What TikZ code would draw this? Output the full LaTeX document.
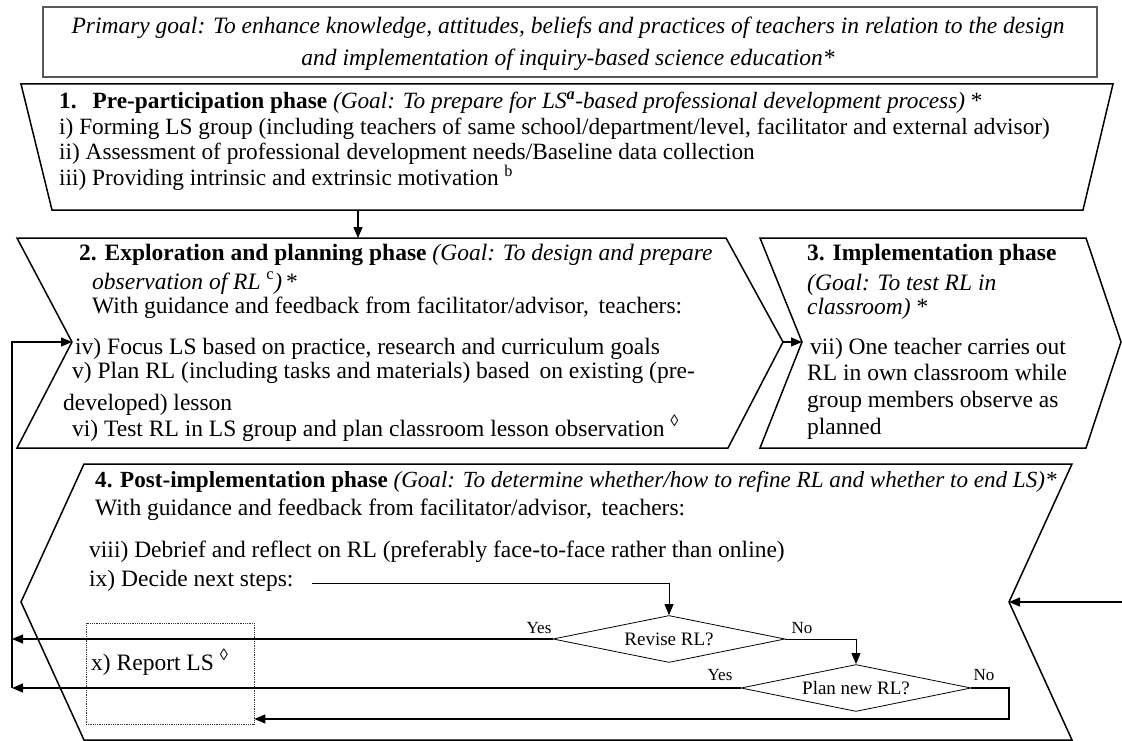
\documentclass[tikz,border=0pt]{standalone}
\usepackage{fontspec}
\setmainfont{Liberation Serif}
\usetikzlibrary{arrows.meta,shapes.geometric}

\begin{document}
\begin{tikzpicture}[x=1pt,y=-1pt,
  phase/.style={draw=black,line width=1.5pt,line join=miter},
  ln/.style={anchor=base west,inner sep=0pt,font=\fontsize{23.5}{24}\selectfont},
  flow/.style={-{Triangle[length=11pt,width=9pt]},line width=1.3pt},
  thin flow/.style={-{Triangle[length=11pt,width=9pt]},line width=0.8pt},
  decision/.style={diamond,draw,line width=0.8pt,inner sep=0pt,shape aspect=4.9,
    font=\fontsize{19}{22}\selectfont},
  answer/.style={inner sep=0pt,font=\fontsize{17}{20}\selectfont}]
\useasboundingbox (0,0) rectangle (1122,741);

% primary goal
\node[draw=black!65,line width=1.2pt,minimum width=1054pt,minimum height=70pt,
  inner sep=0pt] (goal) at (570,42) {};
\node[anchor=base,inner sep=0pt,font=\fontsize{23.5}{24}\selectfont\itshape] (goal1) at (568,34)
  {Primary goal: To enhance knowledge, attitudes, beliefs and practices of teachers in relation to the design};
\node[anchor=base,inner sep=0pt,font=\fontsize{23.5}{24}\selectfont\itshape] (goal2) at (568,66)
  {and implementation of inquiry-based science education*};

% phase outlines
\coordinate (p1out) at (358,210);
\draw[phase] (21,84) -- (1113,84) -- (1083,210) -- (52,210) -- cycle;

\coordinate (p2in) at (358,238);
\coordinate (p2notch) at (72,342);
\coordinate (p2tip) at (783,342);
\draw[phase] (17,238) -- (726,238) -- (p2tip) -- (728,448) -- (17,448) -- (p2notch) -- cycle;

\coordinate (p3notch) at (802,342);
\draw[phase] (760,238) -- (1086,238) -- (1121,342) -- (1086,448) -- (760,448) -- (p3notch) -- cycle;

\coordinate (p4notchL) at (21,602);
\coordinate (p4notchR) at (1009,602);
\draw[phase] (84,464) -- (1072,464) -- (p4notchR) -- (1072,740) -- (84,740) -- (p4notchL) -- cycle;

% phase 1 text, one block with fixed line pitch
\node[anchor=base west,inner sep=0pt] (p1) at (59,109) {\parbox[t]{1040pt}{\fontsize{23.3}{25.4}\selectfont
  \lineskiplimit=-100pt\lineskip=0pt
  \textbf{1.}\hspace{16pt}\textbf{Pre-participation phase} \textit{(Goal: To prepare for LS\textsuperscript{\bfseries a}-based professional development process)} *\\
  i) Forming LS group (including teachers of same school/department/level, facilitator and external advisor)\\
  ii) Assessment of professional development needs/Baseline data collection\\
  iii) Providing intrinsic and extrinsic motivation \textsuperscript{b}}};

% phase 2 text
\node[ln] (p2t) at (79,260) {\textbf{2. Exploration and planning phase} \textit{(Goal: To design and prepare}};
\node[ln] (p2u) at (92,289) {\textit{observation of RL} \textsuperscript{c}\textit{)}\,*};
\node[ln] (p2g) at (92,313) {With guidance and feedback from facilitator/advisor,\, teachers:};
\node[ln] (p2a) at (75,354) {iv) Focus LS based on practice, research and curriculum goals};
\node[ln] (p2b) at (72,378) {v) Plan RL (including tasks and materials) based\, on existing (pre-};
\node[ln] (p2c) at (63,410) {developed) lesson};
\node[ln] (p2d) at (72,436) {vi) Test RL in LS group and plan classroom lesson observation \textsuperscript{◊}};

% phase 3 text
\node[ln] (p3t) at (807,260) {\textbf{3. Implementation phase}};
\node[ln] (p3u) at (807,290) {\textit{(Goal: To test RL in}};
\node[ln] (p3v) at (807,314) {\textit{classroom)} *};
\node[ln] (p3a) at (810,354) {vii) One teacher carries out};
\node[ln] (p3b) at (807,380) {RL in own classroom while};
\node[ln] (p3c) at (807,407) {group members observe as};
\node[ln] (p3d) at (807,434) {planned};

% phase 4 text
\node[ln,font=\fontsize{23.1}{24}\selectfont] (p4t) at (95,487) {\textbf{4. Post-implementation phase} \textit{(Goal: To determine whether/how to refine RL and whether to end LS)*}};
\node[ln] (p4g) at (95,515) {With guidance and feedback from facilitator/advisor,\, teachers:};
\node[ln] (p4a) at (89,557) {viii) Debrief and reflect on RL (preferably face-to-face rather than online)};
\node[ln] (p4b) at (89,586) {ix) Decide next steps:};

% decisions
\node[decision,minimum width=232pt,minimum height=47pt] (revise) at (669,639) {Revise RL?};
\node[decision,minimum width=230pt,minimum height=47pt] (plan) at (856,688) {Plan new RL?};
\node[answer] (ry) at (539,628) {Yes};
\node[answer] (rn) at (802,628) {No};
\node[answer] (py) at (720,675) {Yes};
\node[answer] (pn) at (984,675) {No};

% report box
\node[draw=black!80,densely dotted,line width=0.8pt,minimum width=168pt,minimum height=101pt,inner sep=0pt] (report) at (170,673.5) {};
\node[ln] (reporttxt) at (91,670) {x) Report LS \textsuperscript{◊}};

% connectors
\coordinate (stepsout) at (312,583);
\coordinate (railtop) at (12,342);
\coordinate (railbot) at (12,688);
\coordinate (nocorner) at (1009,719);
\coordinate (rightin) at (1122,602);

\draw[flow] (p1out) -- (p2in);
\draw[flow] (p2tip) -- (p3notch);
\draw[thin flow] (stepsout) -| (revise.north);
\draw[flow] (revise.west) -- (revise.west -| railtop);
\draw[thin flow] (revise.east) -| (plan.north);
\draw[flow] (plan.west) -- (railbot);
\draw[flow] (railbot) -- (railtop) -- (p2notch);
\draw[flow] (plan.east) -| (nocorner) -- (nocorner -| report.east);
\draw[flow] (rightin) -- (p4notchR);
\end{tikzpicture}
\end{document}
